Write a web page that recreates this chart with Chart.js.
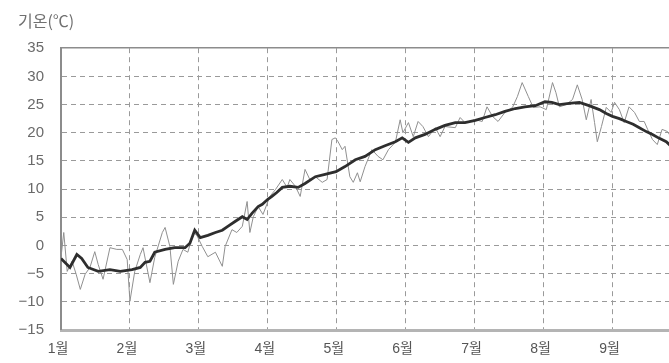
<!DOCTYPE html>
<html>
<head>
<meta charset="utf-8">
<script src="https://cdn.jsdelivr.net/npm/chart.js@4/dist/chart.umd.min.js"></script>
<style>
  html, body { margin: 0; padding: 0; background: #fff; }
  #wrap { width: 669px; height: 363px; }
</style>
</head>
<body>
<div id="wrap"><canvas id="c" width="669" height="363"></canvas></div>
<script>
// Month axis labels (position 0 = 1월, 1 = 2월, ...)
const monthLabels = ['1월', '2월', '3월', '4월', '5월', '6월', '7월', '8월', '9월'];
// Temperature axis ticks (℃)
const tempTicks = [-15, -10, -5, 0, 5, 10, 15, 20, 25, 30, 35];

// Daily temperature: position along the month axis and value (℃)
const dailyPos = [
  0.00, 0.04, 0.09, 0.16, 0.22, 0.28, 0.35, 0.42, 0.49, 0.54,
  0.61, 0.71, 0.81, 0.89, 0.96, 1.00, 1.07, 1.15, 1.19, 1.29,
  1.36, 1.47, 1.51, 1.58, 1.63, 1.70, 1.77, 1.84, 1.92, 1.97,
  2.05, 2.13, 2.24, 2.34, 2.38, 2.48, 2.55, 2.63, 2.70, 2.74,
  2.79, 2.86, 2.93, 3.03, 3.11, 3.21, 3.28, 3.32, 3.40, 3.47,
  3.54, 3.61, 3.69, 3.79, 3.86, 3.93, 3.98, 4.02, 4.08, 4.12,
  4.19, 4.24, 4.30, 4.34, 4.41, 4.51, 4.60, 4.67, 4.75, 4.85,
  4.92, 4.96, 5.04, 5.11, 5.18, 5.25, 5.33, 5.43, 5.50, 5.57,
  5.72, 5.79, 5.86, 6.01, 6.11, 6.18, 6.26, 6.34, 6.44, 6.55,
  6.62, 6.69, 6.78, 6.85, 6.95, 7.04, 7.13, 7.18, 7.23, 7.33,
  7.42, 7.49, 7.56, 7.62, 7.69, 7.74, 7.78, 7.84, 7.91, 7.98,
  8.03, 8.10, 8.17, 8.24, 8.32, 8.39, 8.46, 8.51, 8.58, 8.65,
  8.72, 8.80, 8.87
];
const dailyTemp = [
  -2.1, 2.3, -4.6, -2.8, -5.1, -7.8, -5.1, -3.9, -1.1, -3.4,
  -6.0, -0.4, -0.7, -0.7, -2.5, -9.9, -4.6, -1.6, -0.4, -6.6,
  -2.1, 2.3, 3.2, -0.2, -6.9, -2.8, -0.7, -1.2, 2.3, 1.8,
  -0.2, -2.0, -1.2, -3.7, -0.2, 2.8, 2.3, 3.4, 7.8, 2.3,
  5.1, 6.9, 5.5, 8.7, 9.9, 11.7, 10.3, 11.7, 10.5, 8.7,
  13.5, 11.7, 12.2, 11.2, 11.7, 18.8, 19.1, 18.4, 17.0, 17.6,
  12.2, 11.2, 12.9, 11.3, 14.0, 17.0, 15.8, 15.2, 17.0, 18.3,
  22.3, 20.0, 21.8, 19.3, 22.0, 21.1, 19.3, 20.9, 19.3, 21.1,
  20.9, 22.7, 21.8, 22.3, 22.0, 24.6, 22.9, 22.0, 23.6, 24.5,
  26.4, 28.9, 26.4, 24.5, 24.6, 24.1, 28.9, 27.1, 24.6, 25.0,
  25.9, 28.5, 25.9, 22.3, 25.9, 21.8, 18.4, 21.1, 24.5, 23.6,
  25.4, 24.1, 21.8, 24.6, 23.6, 22.0, 22.0, 20.6, 18.8, 17.9,
  20.6, 20.2, 18.8
];

// Smoothed (running mean) temperature
const avgPos = [
  0.00, 0.13, 0.23, 0.30, 0.39, 0.54, 0.71, 0.86, 1.03, 1.15,
  1.22, 1.29, 1.36, 1.51, 1.65, 1.80, 1.87, 1.94, 2.02, 2.13,
  2.24, 2.34, 2.42, 2.53, 2.63, 2.70, 2.77, 2.86, 2.92, 3.00,
  3.06, 3.13, 3.21, 3.32, 3.44, 3.54, 3.69, 3.83, 3.99, 4.12,
  4.27, 4.41, 4.56, 4.70, 4.85, 4.95, 5.04, 5.14, 5.28, 5.43,
  5.57, 5.72, 5.86, 6.01, 6.15, 6.30, 6.44, 6.59, 6.73, 6.88,
  7.02, 7.12, 7.23, 7.37, 7.52, 7.66, 7.81, 7.91, 8.00, 8.10,
  8.20, 8.30, 8.39, 8.49, 8.58, 8.68, 8.78, 8.87
];
const avgTemp = [
  -2.3, -3.9, -1.6, -2.3, -3.9, -4.6, -4.3, -4.6, -4.3, -3.9,
  -3.0, -2.8, -1.2, -0.7, -0.4, -0.4, 0.4, 2.7, 1.4, 1.8,
  2.3, 2.7, 3.4, 4.3, 5.1, 4.6, 5.7, 6.9, 7.3, 8.2,
  8.7, 9.4, 10.3, 10.5, 10.3, 11.0, 12.2, 12.6, 13.1, 14.0,
  15.2, 15.8, 17.0, 17.7, 18.4, 19.1, 18.3, 19.1, 19.7, 20.6,
  21.3, 21.8, 21.8, 22.2, 22.7, 23.2, 23.8, 24.3, 24.6, 24.8,
  25.5, 25.4, 25.0, 25.2, 25.4, 24.8, 24.1, 23.4, 22.9, 22.5,
  22.0, 21.5, 20.9, 20.2, 19.7, 19.0, 18.4, 17.4
];

const FONT = '"Liberation Sans", "Noto Sans CJK KR", sans-serif';
const gridDash = [5, 4];

new Chart(document.getElementById('c'), {
  type: 'line',
  data: {
    datasets: [
      {
        label: '평균',
        data: avgPos.map((p, i) => ({ x: p, y: avgTemp[i] })),
        borderColor: '#2e2e2e',
        borderWidth: 2.8,
        pointRadius: 0,
        tension: 0
      },
      {
        label: '일별',
        data: dailyPos.map((p, i) => ({ x: p, y: dailyTemp[i] })),
        borderColor: '#909090',
        borderWidth: 1,
        pointRadius: 0,
        tension: 0
      }
    ]
  },
  options: {
    responsive: false,
    animation: false,
    devicePixelRatio: 1,
    layout: { padding: { left: 18, right: 0, top: 0, bottom: 0 } },
    plugins: {
      legend: { display: false },
      tooltip: { enabled: false },
      title: {
        display: true,
        text: '기온(℃)',
        align: 'start',
        color: '#707070',
        font: { family: '"Noto Sans CJK KR", sans-serif', size: 16, weight: 'normal', lineHeight: 1.2 },
        padding: { top: 11, bottom: 18 }
      }
    },
    scales: {
      x: {
        type: 'linear',
        min: 0,
        max: 8.82,
        afterBuildTicks: s => { s.ticks = monthLabels.map((_, i) => ({ value: i })); },
        afterFit: s => { s.height = 33; },
        ticks: {
          callback: v => monthLabels[v],
          color: '#555',
          font: { family: FONT, size: 14 },
          padding: 11,
          labelOffset: -3,
          maxRotation: 0,
          autoSkip: false
        },
        grid: {
          color: '#9a9a9a',
          lineWidth: ctx => (ctx.index === 0 ? 0 : 1),
          drawTicks: false
        },
        border: { display: true, color: '#b4b4b4', width: 3, dash: gridDash }
      },
      y: {
        min: -15,
        max: 35,
        afterBuildTicks: s => { s.ticks = tempTicks.map(v => ({ value: v })); },
        afterFit: s => { s.width = 43; },
        ticks: {
          callback: v => String(v).replace('-', '\u2212'),
          color: '#6a6a6a',
          font: { family: FONT, size: 15 },
          padding: 17
        },
        grid: {
          color: ctx => (ctx.tick && ctx.tick.value === 35 ? '#8c8c8c' : '#9a9a9a'),
          lineWidth: ctx => (ctx.index === 0 ? 0 : (ctx.tick && ctx.tick.value === 35 ? 1.5 : 1)),
          drawTicks: false
        },
        border: {
          display: true,
          color: '#8c8c8c',
          width: 2,
          dash: ctx => (ctx.tick && ctx.tick.value === 35 ? [] : gridDash)
        }
      }
    }
  }
});
</script>
</body>
</html>
